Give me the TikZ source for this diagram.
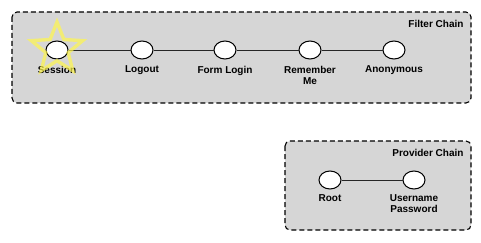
\documentclass[tikz,border=0pt]{standalone}
\usepackage{fontspec}
\setmainfont{Liberation Sans}
\usetikzlibrary{shapes.geometric}

\begin{document}
\begin{tikzpicture}[x=1pt, y=-1pt,
  font=\fontsize{10}{11.5}\selectfont\bfseries,
  chain/.style={draw, dash pattern=on 5pt off 3pt, line width=1.1pt, rounded corners=5pt, fill=black!16},
  flt/.style={draw, ellipse, fill=white, line width=1pt, minimum width=22pt, minimum height=18pt, inner sep=0pt},
  lbl/.style={align=center, anchor=north, inner sep=1pt},
  link/.style={line width=0.8pt, draw=black!85}]
  \useasboundingbox (0,0) rectangle (481,243);
  % filter chain
  \draw[chain] (12,12) rectangle (471,103);
  \node[anchor=east] (fctitle) at (467,24) {Filter Chain};
  \node[flt] (session) at (57,50) {};
  \node[flt] (logout) at (142,50) {};
  \node[flt] (formlogin) at (225,50) {};
  \node[flt] (remember) at (310,50) {};
  \node[flt] (anon) at (394,50) {};
  \node[lbl] (sessionl) at (57,65) {Session};
  \node[lbl] (logoutl) at (142,64) {Logout};
  \node[lbl] (formloginl) at (225,65) {Form Login};
  \node[lbl] (rememberl) at (310,65) {Remember\\Me};
  \node[lbl] (anonl) at (394,64) {Anonymous};
  \draw[link] (session) -- (logout);
  \draw[link] (logout) -- (formlogin);
  \draw[link] (formlogin) -- (remember);
  \draw[link] (remember) -- (anon);
  \node[star, star points=5, star point ratio=2.3, minimum size=54pt, inner sep=0pt,
    draw=yellow!70, line width=3.4pt, opacity=0.7] (hl) at (57,49) {};
  % provider chain
  \draw[chain] (285,141) rectangle (471,230);
  \node[anchor=east] (pctitle) at (467,153) {Provider Chain};
  \node[flt] (root) at (330,180) {};
  \node[flt] (userpass) at (414,180) {};
  \node[lbl] (rootl) at (330,193) {Root};
  \node[lbl] (userpassl) at (414,193) {Username\\Password};
  \draw[link] (root) -- (userpass);
\end{tikzpicture}
\end{document}
